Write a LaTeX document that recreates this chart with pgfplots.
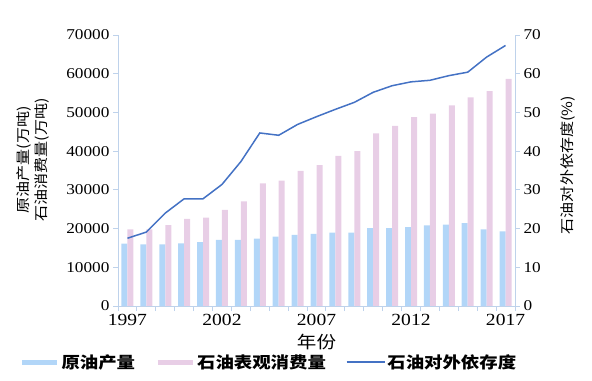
\documentclass[border=0pt]{standalone}
\usepackage{fontspec}
\setmainfont{Liberation Serif}[FakeStretch=1.15]
\newfontfamily\cjk{Noto Sans CJK SC}[FakeStretch=1.15]
\usepackage{pgfplots}
\usepackage{pgfplotstable}
\pgfplotsset{compat=1.18}
\definecolor{bluebar}{RGB}{178,214,248}
\definecolor{pinkbar}{RGB}{232,206,230}
\definecolor{linecol}{RGB}{68,114,196}
\definecolor{axcol}{RGB}{190,210,235}
\pgfplotstableread{
year prod cons dep
1997 16100 19800 17.5
1998 15900 19800 19.1
1999 15900 20900 24.0
2000 16200 22500 27.7
2001 16500 22800 27.7
2002 17100 24800 31.4
2003 17100 27000 37.3
2004 17400 31700 44.7
2005 17900 32400 44.1
2006 18400 34900 46.9
2007 18600 36400 48.9
2008 18960 38800 50.8
2009 18960 40000 52.6
2010 20100 44600 55.2
2011 20100 46500 56.9
2012 20400 48800 57.9
2013 20800 49700 58.3
2014 21000 51800 59.5
2015 21400 53900 60.4
2016 19800 55500 64.3
2017 19300 58700 67.3
}\data
\begin{document}
\begin{tikzpicture}
\useasboundingbox (0,0) rectangle (592bp,381bp);
\pgfplotsset{
  common/.style={
    at={(118bp,75bp)}, anchor=south west,
    scale only axis, width=397bp, height=271bp,
    xmin=1996.5, xmax=2017.5, ymin=0,
    axis line style={color=axcol, line width=0.9bp},
    tick style={color=axcol, line width=0.9bp},
    tick align=outside, major tick length=5bp,
    /pgf/number format/assume math mode=true,
    scaled y ticks=false,
    yticklabel style={/pgf/number format/1000 sep={}, font=\fontsize{15bp}{15bp}\selectfont},
  }
}
\begin{axis}[common,
  ymax=70000,
  axis x line*=bottom, axis y line*=left,
  xtick={1996.5,1997.5,...,2017.5}, xticklabels={},
  extra x ticks={1997,2002,2007,2012,2017},
  extra x tick labels={1997,2002,2007,2012,2017},
  extra x tick style={major tick length=0pt, xticklabel style={font=\fontsize{17bp}{17bp}\selectfont, yshift=-5bp}},
  ytick={0,10000,...,70000},
  ylabel={原油产量(万吨)\\石油消费量(万吨)},
  ylabel style={at={(axis description cs:-0.215,0.539)}, anchor=center, align=center, font=\cjk\fontsize{14bp}{18bp}\selectfont},
  xlabel={年份},
  xlabel style={at={(axis description cs:0.5,-0.133)}, anchor=center, font=\cjk\fontsize{17bp}{17bp}\selectfont},
]
\addplot[ybar, bar width=6bp, bar shift=-3bp, fill=bluebar, draw=none] table[x=year,y=prod]{\data};
\addplot[ybar, bar width=6bp, bar shift=3bp, fill=pinkbar, draw=none] table[x=year,y=cons]{\data};
\end{axis}
\begin{axis}[common,
  ymax=70,
  axis x line=none, axis y line*=right,
  ytick={0,10,...,70},
  ylabel={石油对外依存度(\%)},
  ylabel style={at={(axis description cs:1.134,0.52)}, anchor=center, rotate=0, font=\cjk\fontsize{14bp}{14bp}\selectfont},
  legend columns=3,
  legend cell align=left,
  legend style={draw=none, fill=none, at={(axis description cs:0.38,-0.207)}, anchor=center,
    font=\cjk\bfseries\fontsize{16bp}{16bp}\selectfont,
    /tikz/every even column/.append style={column sep=18bp}},
]
\addlegendimage{legend image code/.code={\draw[bluebar,line width=5bp] (0bp,0bp) -- (35bp,0bp);}}
\addlegendentry{原油产量}
\addlegendimage{legend image code/.code={\draw[pinkbar,line width=5bp] (0bp,0bp) -- (35bp,0bp);}}
\addlegendentry{石油表观消费量}
\addplot[linecol, line width=1.5bp, mark=none, legend image code/.code={\draw[linecol,line width=1.5bp] (0bp,0bp) -- (38bp,0bp);}] table[x=year,y=dep]{\data};
\addlegendentry{石油对外依存度}
\end{axis}
\end{tikzpicture}
\end{document}
